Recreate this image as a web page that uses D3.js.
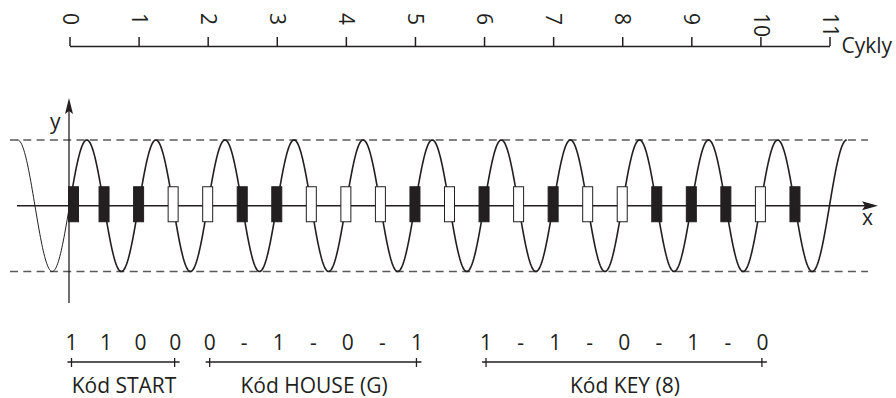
<!DOCTYPE html>
<meta charset='utf-8'>
<style>

body {
  margin: 0;
  background: #fff;
}

svg text {
  font-family: 'Open Sans', sans-serif;
  font-size: 21px;
  fill: #231f20;
}

.cycles path,
.cycles line {
  stroke: #231f20;
  stroke-width: 1.5;
}

.wave {
  fill: none;
  stroke: #231f20;
}

.guide {
  stroke: #58595b;
  stroke-width: 1.5;
  stroke-dasharray: 8, 5.3;
}

.bracket line {
  stroke: #231f20;
  stroke-width: 1.3;
}

</style>
<svg width='896' height='398'></svg>

<script src='https://d3js.org/d3.v7.min.js'></script>

<script>

// cycle numbers on the top scale
var cycles = [0, 1, 2, 3, 4, 5, 6, 7, 8, 9, 10, 11];

// one mark per zero crossing (every half cycle): 1 = burst (black), 0 = none (white)
var bursts = [1, 1, 1, 0, 0, 1, 1, 0, 0, 0, 1, 0, 1, 0, 1, 0, 0, 1, 1, 1, 0, 1];

// mains wave runs from / to (in cycles)
var waveFrom = -0.75,
    waveTo = 11.25;

// code groups under the wave
var groupNames = ['Kód START', 'Kód HOUSE (G)', 'Kód KEY (8)'];
var groupFrom = [0, 2, 6];
var groupTo = [1.5, 5, 10];
var groupBits = [
  ['1', '1', '0', '0'],
  ['0', '-', '1', '-', '0', '-', '1'],
  ['1', '-', '1', '-', '0', '-', '1', '-', '0']
];


var svg = d3.select('svg'),
    ink = '#231f20',
    x = d3.scaleLinear().domain([0, 11]).range([69.5, 829.5]),
    y = d3.scaleLinear().domain([-1, 1]).range([271.5, 140]),
    axisY = y(0),
    topY = 46;

// ---- top scale (cycles)
var cycleAxis = svg.append('g')
    .attr('class', 'cycles')
    .attr('transform', 'translate(0,' + topY + ')')
    .call(d3.axisTop(x).tickValues(cycles).tickSize(9).tickSizeOuter(0).tickFormat(d3.format('d')));

cycleAxis.selectAll('text')
    .attr('transform', 'rotate(90)')
    .attr('x', -(topY - 13))
    .attr('y', 0)
    .attr('dy', '0.35em')
    .attr('text-anchor', 'start')
    .attr('fill', ink)
    .style('font-size', '21px')
    .style('font-family', "'Open Sans', sans-serif");

svg.append('text')
    .attr('x', x(11) + 12)
    .attr('y', topY + 7)
    .text('Cykly');

// ---- dashed amplitude guides
svg.selectAll('.guide')
    .data([1, -1])
    .enter()
    .append('line')
    .attr('class', 'guide')
    .attr('x1', 10)
    .attr('x2', 868)
    .attr('y1', function(d) { return y(d); })
    .attr('y2', function(d) { return y(d); });

// ---- axes
svg.append('line')
    .attr('x1', 17).attr('x2', 870)
    .attr('y1', axisY).attr('y2', axisY)
    .attr('stroke', ink).attr('stroke-width', 1.3);

svg.append('path')
    .attr('d', 'M878,' + axisY + 'L862,' + (axisY - 4.5) + 'L865,' + axisY + 'L862,' + (axisY + 4.5) + 'Z')
    .attr('fill', ink);

svg.append('line')
    .attr('x1', x(0) - 0.5).attr('x2', x(0) - 0.5)
    .attr('y1', 106).attr('y2', 303)
    .attr('stroke', ink).attr('stroke-width', 1.3);

svg.append('path')
    .attr('d', 'M' + (x(0) - 0.5) + ',98L' + (x(0) - 4.5) + ',114L' + (x(0) - 0.5) + ',111L' + (x(0) + 3.5) + ',114Z')
    .attr('fill', ink);

svg.append('text').attr('x', 50).attr('y', 129).text('y');
svg.append('text').attr('x', 862).attr('y', 225).text('x');

// ---- the mains sine wave
var line = d3.line()
    .x(function(d) { return x(d); })
    .y(function(d) { return y(Math.sin(2 * Math.PI * d)); });

svg.append('path')
    .attr('class', 'wave')
    .attr('stroke-width', 1)
    .attr('d', line(d3.range(waveFrom, 0.001, 0.01)));

svg.append('path')
    .attr('class', 'wave')
    .attr('stroke-width', 1.6)
    .attr('d', line(d3.range(0, waveTo + 0.001, 0.01)));

// ---- burst marks on every zero crossing
var markW = 10,
    markH = 35;

svg.append('g')
    .selectAll('rect')
    .data(bursts)
    .enter()
    .append('rect')
    .attr('x', function(d, i) { return Math.max(x(i / 2) - markW / 2, x(0) - 1); })
    .attr('y', axisY - 19)
    .attr('width', markW)
    .attr('height', markH)
    .attr('fill', function(d) { return d ? ink : '#fff'; })
    .attr('stroke', ink)
    .attr('stroke-width', 1);

// ---- code groups
groupNames.forEach(function(name, g) {
    var grp = svg.append('g').attr('class', 'bracket'),
        a = x(groupFrom[g]) + 2,
        b = x(groupTo[g]) + 1.5;

    grp.selectAll('text.bit')
        .data(groupBits[g])
        .enter()
        .append('text')
        .attr('class', 'bit')
        .attr('x', function(d, i) { return x(groupFrom[g] + i / 2) + 2; })
        .attr('y', 350)
        .attr('text-anchor', 'middle')
        .text(function(d) { return d; });

    grp.append('line')
        .attr('x1', a - 4).attr('x2', b + 5)
        .attr('y1', 362).attr('y2', 362);

    grp.selectAll('line.end')
        .data([a, b])
        .enter()
        .append('line')
        .attr('class', 'end')
        .attr('x1', function(d) { return d; })
        .attr('x2', function(d) { return d; })
        .attr('y1', 358).attr('y2', 367);

    grp.append('text')
        .attr('x', (a + b) / 2 + 1)
        .attr('y', 393)
        .attr('text-anchor', 'middle')
        .text(name);
});

</script>
